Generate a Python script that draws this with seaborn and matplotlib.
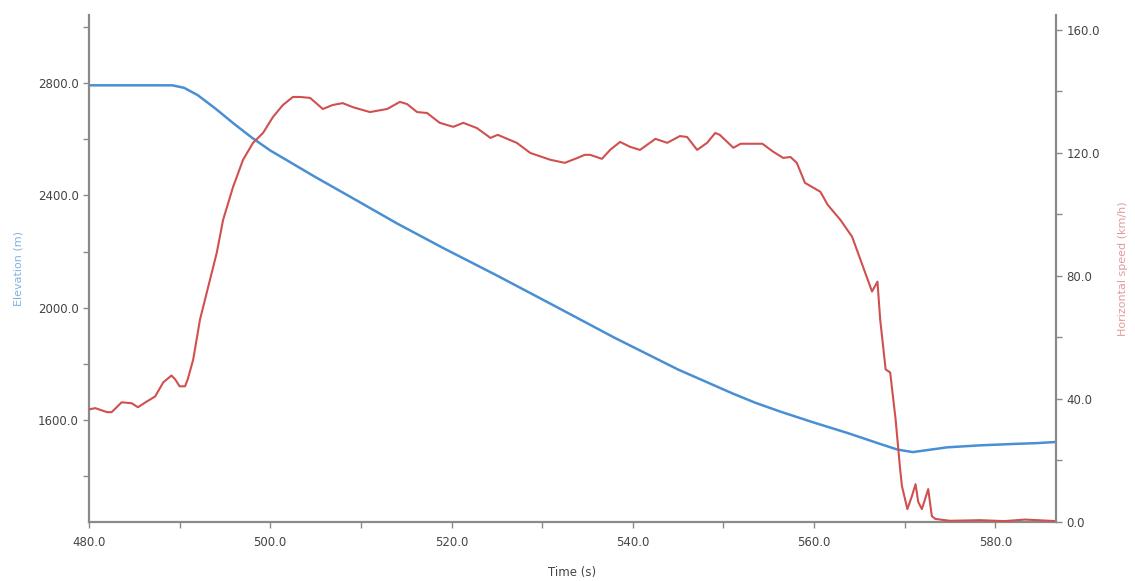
import numpy as np
import pandas as pd
import matplotlib
matplotlib.use("Agg")
import matplotlib.pyplot as plt
import seaborn as sns
from matplotlib.ticker import MultipleLocator, FormatStrFormatter

# =========================
# Data
# =========================
elev_time = [480.0, 489.2, 490.5, 492.0, 494.0, 496.0, 498.0, 500.0, 502.0,
             505.0, 509.0, 514.0, 519.0, 525.0, 531.0, 538.0, 545.0, 551.0,
             553.5, 556.3, 559.9, 563.7, 567.3, 569.2, 570.9, 574.7, 578.3,
             582.0, 584.6, 586.7]
elevation = [2792, 2792, 2783, 2757, 2708, 2655, 2605, 2560, 2522,
             2465, 2392, 2300, 2214, 2115, 2013, 1893, 1780, 1695,
             1662, 1630, 1592, 1554, 1515, 1495, 1486, 1503, 1510,
             1515, 1518, 1522]

speed_time = [480.0, 480.7, 482.0, 482.5, 483.6, 484.7, 485.4, 486.4, 487.3,
              488.2, 489.1, 489.5, 490.0, 490.6, 490.9, 491.5, 492.25, 493.0,
              494.1, 494.8, 495.9, 497.0, 498.1, 499.2, 500.3, 501.4, 502.5,
              503.3, 504.4, 505.8, 506.9, 508.0, 509.1, 511.0, 512.9, 514.3,
              515.1, 516.2, 517.3, 518.7, 520.2, 521.3, 522.8, 524.3, 525.1,
              527.2, 528.7, 530.9, 532.5, 533.9, 534.7, 535.3, 536.6, 537.5,
              538.6, 539.7, 540.8, 542.5, 543.8, 545.2, 546.0, 547.1, 548.2,
              549.1, 549.6, 551.1, 551.9, 554.3, 555.5, 556.6, 557.4, 558.1,
              559.0, 560.7, 561.5, 562.9, 564.2, 565.4, 566.4, 567.0, 567.3,
              567.9, 568.4, 569.0, 569.5, 569.7, 570.3, 570.8, 571.2, 571.5,
              571.9, 572.6, 573.0, 573.4, 575.0, 578.3, 581.0, 583.3, 586.7]
speed = [36.6, 37.0, 35.7, 35.7, 38.9, 38.6, 37.3, 39.2, 40.8,
         45.4, 47.6, 46.4, 44.1, 44.1, 46.4, 52.8, 65.8, 74.6,
         87.5, 98.2, 108.9, 117.7, 123.2, 126.4, 131.6, 135.5, 138.1,
         138.1, 137.8, 134.2, 135.5, 136.1, 134.8, 133.2, 134.2, 136.5,
         135.8, 133.2, 132.9, 129.7, 128.4, 129.7, 128.0, 124.8, 125.8,
         123.2, 119.9, 117.7, 116.7, 118.3, 119.3, 119.3, 118.0, 120.9,
         123.5, 121.9, 120.9, 124.5, 123.2, 125.4, 125.1, 120.9, 123.2,
         126.4, 125.8, 121.6, 122.9, 122.9, 120.3, 118.3, 118.6, 116.7,
         110.2, 107.3, 103.1, 98.2, 92.7, 83.0, 74.9, 78.1, 65.8,
         49.6, 48.6, 33.4, 17.2, 11.7, 4.2, 8.4, 12.3, 6.5,
         4.2, 10.7, 1.9, 1.0, 0.4, 0.6, 0.3, 0.8, 0.3]

elev_df = pd.DataFrame({"Time": elev_time, "Elevation": elevation})
speed_df = pd.DataFrame({"Time": speed_time, "Speed": speed})

# =========================
# Plot
# =========================
sns.set_style("ticks")
plt.rcParams["font.family"] = ["DejaVu Sans"]

blue = "#4a8fd3"
red = "#d0504f"
axis_grey = "#8a8a8a"
text_grey = "#444444"

fig, ax = plt.subplots(figsize=(11.35, 5.81), dpi=100)
fig.subplots_adjust(left=0.0784, right=0.9304, bottom=0.1015, top=0.974)

ax2 = ax.twinx()

sns.lineplot(data=elev_df, x="Time", y="Elevation", ax=ax,
             color=blue, linewidth=1.8)
sns.lineplot(data=speed_df, x="Time", y="Speed", ax=ax2,
             color=red, linewidth=1.5)

ax.set_xlim(480, 586.7)
ax.set_ylim(1237, 3042)
ax2.set_ylim(0, 164.7)

ax.xaxis.set_major_locator(MultipleLocator(20))
ax.xaxis.set_minor_locator(MultipleLocator(10))
ax.yaxis.set_major_locator(MultipleLocator(400))
ax.yaxis.set_minor_locator(MultipleLocator(200))
ax2.yaxis.set_major_locator(MultipleLocator(40))
ax2.yaxis.set_minor_locator(MultipleLocator(20))
for a in (ax.xaxis, ax.yaxis, ax2.yaxis):
    a.set_major_formatter(FormatStrFormatter("%.1f"))

for a in (ax, ax2):
    a.tick_params(which="both", length=4, width=1, color=axis_grey,
                  labelsize=8.5, labelcolor=text_grey)
    for side, sp in a.spines.items():
        sp.set_color(axis_grey)
        sp.set_linewidth(1.6)
    a.spines["top"].set_visible(False)
ax.tick_params(axis="x", pad=6)
ax.spines["right"].set_visible(False)
ax2.spines["left"].set_visible(False)
ax2.spines["bottom"].set_visible(False)
ax2.spines["right"].set_visible(True)

ax.set_xlabel("Time (s)", fontsize=8.5, color=text_grey, labelpad=12)
ax.set_ylabel("Elevation (m)", fontsize=8, color="#7fb3e3", labelpad=10)
ax2.set_ylabel("Horizontal speed (km/h)", fontsize=8, color="#e39a9a",
               labelpad=13)

plt.savefig("out.png", dpi=100)
